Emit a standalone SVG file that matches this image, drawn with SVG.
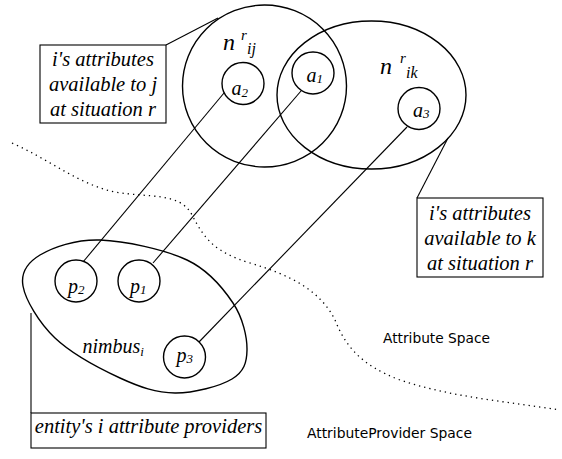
<svg xmlns="http://www.w3.org/2000/svg" width="562" height="459" viewBox="0 0 562 459">
<style>
.shape{fill:none;stroke:#000;stroke-width:1.4}
.line{fill:none;stroke:#000;stroke-width:1.1}
.box{fill:#fff;stroke:#000;stroke-width:1.1}
.it{font-family:'Liberation Serif','DejaVu Serif',serif;font-style:italic;font-weight:normal;fill:#000}
.lbl{font-size:20.5px;text-anchor:middle}
.sans{font-family:'DejaVu Sans','Liberation Sans',sans-serif;font-size:14px;fill:#000}
.dot{fill:none;stroke:#000;stroke-width:1.3;stroke-dasharray:1.3 4;stroke-linecap:butt}
</style>
<rect width="562" height="459" fill="#fff"/>
<g id="boundary">
<path class="dot" d="M12,143 C50,160 80,185 115,192 C150,198 180,192 192,215 C205,240 215,252 250,263 C290,275 320,290 335,320 C345,345 360,365 400,380 C450,397 510,402 560,410"/>
</g>
<g id="n_ij" font-family="Liberation Serif, DejaVu Serif, serif" font-style="italic">
<ellipse class="shape" cx="264.5" cy="86" rx="82" ry="81"/>
<text class="it" x="223" y="50" font-size="24">n</text>
<text class="it" x="241" y="40" font-size="15">r</text>
<text class="it" x="247" y="54" font-size="16">ij</text>
</g>
<g id="n_ik" font-family="Liberation Serif, DejaVu Serif, serif" font-style="italic">
<ellipse class="shape" cx="371.5" cy="95" rx="94.5" ry="74"/>
<text class="it" x="380" y="73.5" font-size="24">n</text>
<text class="it" x="400" y="63" font-size="15">r</text>
<text class="it" x="406" y="77.5" font-size="16">ik</text>
</g>
<g id="a2" font-family="Liberation Serif, DejaVu Serif, serif" font-style="italic">
<circle class="shape" cx="243" cy="83.5" r="21"/>
<text class="it" x="231.5" y="95" font-size="20">a<tspan font-size="13" dy="2">2</tspan></text>
</g>
<g id="a1" font-family="Liberation Serif, DejaVu Serif, serif" font-style="italic">
<circle class="shape" cx="313" cy="73" r="21"/>
<text class="it" x="306.5" y="82" font-size="20">a<tspan font-size="13" dy="1">1</tspan></text>
</g>
<g id="a3" font-family="Liberation Serif, DejaVu Serif, serif" font-style="italic">
<circle class="shape" cx="419" cy="108.5" r="21"/>
<text class="it" x="413" y="117" font-size="20">a<tspan font-size="13" dy="1">3</tspan></text>
</g>
<g id="nimbus" font-family="Liberation Serif, DejaVu Serif, serif" font-style="italic">
<path class="shape" d="M23,286 C25.5,299.8 38.8,322.7 55,338 C71.2,353.3 100,368.8 120,378 C140,387.2 156.3,392.8 175,393 C193.7,393.2 220,386.2 232,379 C244,371.8 246.8,362.7 247,350 C247.2,337.3 243,318 233,303 C223,288 209.2,270.5 187,260 C164.8,249.5 124.5,240.8 100,240 C75.5,239.2 52.8,247.3 40,255 C27.2,262.7 20.5,272.2 23,286 Z"/>
<text class="it" x="82.5" y="353" font-size="20">nimbus<tspan font-size="13" dy="3">i</tspan></text>
</g>
<g id="p2" font-family="Liberation Serif, DejaVu Serif, serif" font-style="italic">
<circle class="shape" cx="76" cy="281" r="21"/>
<text class="it" x="68" y="293" font-size="20">p<tspan font-size="13" dy="1">2</tspan></text>
</g>
<g id="p1" font-family="Liberation Serif, DejaVu Serif, serif" font-style="italic">
<circle class="shape" cx="139" cy="281" r="21"/>
<text class="it" x="130" y="293" font-size="20">p<tspan font-size="13" dy="1">1</tspan></text>
</g>
<g id="p3" font-family="Liberation Serif, DejaVu Serif, serif" font-style="italic">
<circle class="shape" cx="184.5" cy="357" r="21"/>
<text class="it" x="176.5" y="362" font-size="20">p<tspan font-size="13" dy="1">3</tspan></text>
</g>
<g id="connectors">
<line class="line" x1="224" y1="93" x2="83" y2="262"/>
<line class="line" x1="301" y1="91" x2="153" y2="263"/>
<line class="line" x1="407" y1="127" x2="199" y2="342"/>
<line class="line" x1="166" y1="45" x2="218" y2="18"/>
<line class="line" x1="417" y1="198" x2="448" y2="138"/>
<line class="line" x1="31" y1="313" x2="31" y2="413"/>
</g>
<g id="box_j" font-family="Liberation Serif, DejaVu Serif, serif" font-style="italic">
<rect class="box" x="40" y="45" width="126" height="78"/>
<text class="it lbl" x="103" y="66">i's attributes</text>
<text class="it lbl" x="103" y="91">available to j</text>
<text class="it lbl" x="103" y="116">at situation r</text>
</g>
<g id="box_k" font-family="Liberation Serif, DejaVu Serif, serif" font-style="italic">
<rect class="box" x="417" y="198" width="126" height="79"/>
<text class="it lbl" x="480" y="220">i's attributes</text>
<text class="it lbl" x="480" y="245">available to k</text>
<text class="it lbl" x="480" y="270">at situation r</text>
</g>
<g id="box_providers" font-family="Liberation Serif, DejaVu Serif, serif" font-style="italic">
<rect class="box" x="31" y="413" width="235" height="35"/>
<text class="it lbl" x="148.5" y="433">entity's i attribute providers</text>
</g>
<g id="spaces">
<text class="sans" x="383" y="343" textLength="107" lengthAdjust="spacingAndGlyphs">Attribute Space</text>
<text class="sans" x="307" y="438" textLength="165" lengthAdjust="spacingAndGlyphs">AttributeProvider Space</text>
</g>
</svg>
